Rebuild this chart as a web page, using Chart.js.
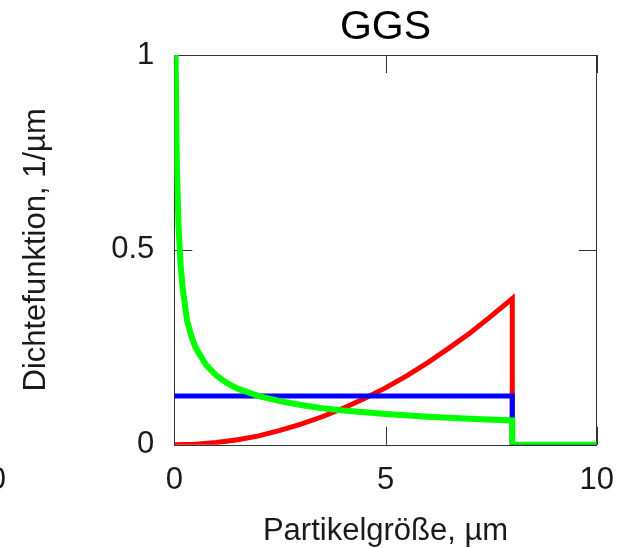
<!DOCTYPE html>
<html><head><meta charset="utf-8">
<script src="https://cdn.jsdelivr.net/npm/chart.js@4"></script>
<style>html,body{margin:0;padding:0;background:#fff;overflow:hidden}#wrap{width:631px;height:548px}</style>
</head><body><div id="wrap"><canvas id="c" width="631" height="548"></canvas></div>
<script>
const titleText = 'GGS';
const xAxisTitle = 'Partikelgröße, µm';
const yAxisTitle = 'Dichtefunktion, 1/µm';
const xTicks = [0, 5, 10];
const yTicks = [0, 0.5, 1];
const cutLabel = '0';

// green curve
const greenX = [0.03, 0.06, 0.1, 0.15, 0.2, 0.3, 0.4, 0.5, 0.75, 1, 1.25, 1.5, 2, 2.5, 3, 3.5, 4, 5, 6, 7, 8, 8, 10];
const greenY = [1.0, 0.72, 0.56, 0.46, 0.40, 0.32, 0.28, 0.25, 0.205, 0.177, 0.158, 0.144, 0.125, 0.112, 0.102, 0.094, 0.088, 0.079, 0.072, 0.067, 0.0625, 0, 0];
// blue curve
const blueX = [0, 8, 8, 10];
const blueY = [0.125, 0.125, 0, 0];
// red curve
const redX = [0, 0.5, 1, 1.5, 2, 2.5, 3, 3.5, 4, 4.5, 5, 5.5, 6, 6.5, 7, 7.5, 8, 8, 10];
const redY = [0, 0.0015, 0.006, 0.013, 0.023, 0.037, 0.053, 0.072, 0.094, 0.119, 0.146, 0.177, 0.211, 0.248, 0.287, 0.33, 0.375, 0, 0];

const pts = (xs, ys) => xs.map((x, i) => ({x, y: ys[i]}));
const FONT = 'Liberation Sans, Arial, sans-serif';
const TXT = '#1a1a1a';

const framePlugin = {
  id: 'frame',
  beforeDatasetsDraw(chart) {
    const {ctx, chartArea: a, scales: {x, y}} = chart;
    ctx.save();
    ctx.strokeStyle = '#333';
    ctx.lineWidth = 1;
    ctx.strokeRect(Math.round(a.left) + 0.5, Math.round(a.top) + 0.5, Math.round(a.right - a.left), Math.round(a.bottom - a.top));
    const tl = 18;
    ctx.beginPath();
    xTicks.forEach(v => {
      const px = Math.round(x.getPixelForValue(v)) + 0.5;
      ctx.moveTo(px, a.bottom); ctx.lineTo(px, a.bottom - tl);
      ctx.moveTo(px, a.top); ctx.lineTo(px, a.top + tl);
    });
    yTicks.forEach(v => {
      const py = Math.round(y.getPixelForValue(v)) + 0.5;
      ctx.moveTo(a.left, py); ctx.lineTo(a.left + tl, py);
      ctx.moveTo(a.right, py); ctx.lineTo(a.right - tl, py);
    });
    ctx.stroke();
    ctx.fillStyle = TXT;
    ctx.textBaseline = 'middle';
    // partially visible label at far left edge
    ctx.font = '31px ' + FONT;
    ctx.textAlign = 'right';
    ctx.fillText(cutLabel, 6, a.bottom + 36);
    // title centred over the plot area
    ctx.fillStyle = '#000';
    ctx.font = '41px ' + FONT;
    ctx.textAlign = 'center';
    ctx.fillText(titleText, (a.left + a.right) / 2, 28);
    ctx.restore();
  }
};

const ds = (label, data, color, w) => ({
  label, data, borderColor: color, backgroundColor: color, borderWidth: w,
  showLine: true, pointRadius: 0, tension: 0, fill: false,
  borderCapStyle: 'butt', borderJoinStyle: 'miter'
});

new Chart(document.getElementById('c'), {
  type: 'scatter',
  data: {
    datasets: [
      ds('m=0.5', pts(greenX, greenY), '#00ff00', 6),
      ds('m=1', pts(blueX, blueY), '#0000ff', 5),
      ds('m=3', pts(redX, redY), '#ff0000', 5)
    ]
  },
  options: {
    responsive: false, animation: false, devicePixelRatio: 1,
    layout: {padding: {left: 0, right: 33, top: 55, bottom: 0}},
    plugins: {
      legend: {display: false}, tooltip: {enabled: false}, title: {display: false}
    },
    scales: {
      x: {
        type: 'linear', min: 0, max: 10,
        afterBuildTicks: s => { s.ticks = xTicks.map(v => ({value: v})); },
        grid: {display: false, drawTicks: false},
        border: {display: false},
        ticks: {color: TXT, font: {family: FONT, size: 31}, padding: 17, maxRotation: 0,
          callback: v => String(v)},
        title: {display: true, text: xAxisTitle, color: TXT, font: {family: FONT, size: 31, lineHeight: 1.0},
          padding: {top: 0, bottom: 1}}
      },
      y: {
        type: 'linear', min: 0, max: 1,
        afterBuildTicks: s => { s.ticks = yTicks.map(v => ({value: v})); },
        grid: {display: false, drawTicks: false},
        border: {display: false},
        ticks: {color: TXT, font: {family: FONT, size: 31}, padding: 20,
          callback: v => String(v)},
        title: {display: true, text: yAxisTitle, color: TXT, font: {family: FONT, size: 31},
          padding: {top: 18, bottom: 36}}
      }
    }
  },
  plugins: [framePlugin]
});
</script></body></html>
